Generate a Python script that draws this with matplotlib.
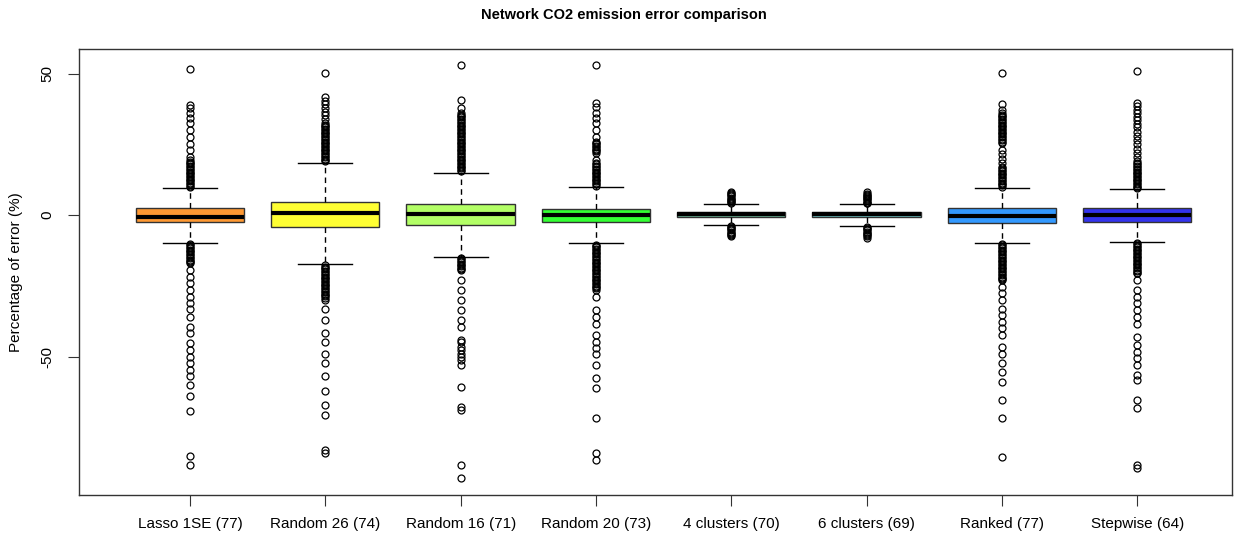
import matplotlib
matplotlib.use("Agg")
import matplotlib.pyplot as plt

labels = ["Lasso 1SE (77)", "Random 26 (74)", "Random 16 (71)", "Random 20 (73)",
          "4 clusters (70)", "6 clusters (69)", "Ranked (77)", "Stepwise (64)"]
colors = ["#FF9933", "#FFFF33", "#B3FF66", "#33FF33", "#66B394", "#66BDBD", "#3399FF", "#3333EE"]

medians = [-0.5, 0.6, 0.5, 0.0, 0.35, 0.4, -0.35, -0.1]
q1s = [-2.6, -4.1, -3.6, -2.4, -0.7, -0.6, -2.7, -2.6]
q3s = [2.6, 4.7, 3.9, 2.3, 1.06, 1.2, 2.4, 2.4]
whislo = [-9.8, -17.3, -14.7, -10.0, -3.5, -3.9, -9.8, -9.4]
whishi = [9.6, 18.5, 15.0, 10.0, 4.0, 3.9, 9.6, 9.2]

fliers_lasso = [51.5, 38.9, 37.7, 36.0, 34.2, 32.4, 30.0, 27.7, 25.3, 23.0, 20.6,
                19.4, 18.9, 18.4, 17.9, 17.4, 16.9, 16.4, 15.9, 15.4, 14.9, 14.4, 13.9,
                13.4, 12.9, 12.4, 11.9, 11.4, 10.9, 10.4, 10.0,
                -10.2, -10.7, -11.2, -11.7, -12.2, -12.7, -13.2, -13.7, -14.2, -14.7,
                -15.2, -15.7, -16.2, -16.7, -17.0, -19.4, -21.8, -24.0, -26.5, -28.9,
                -31.0, -33.0, -35.9, -39.5, -41.7, -45.2, -47.7, -50.0, -52.3, -54.8,
                -57.0, -60.0, -64.0, -69.2, -85.0, -88.3]
fliers_r26 = [50.3, 41.8, 40.5, 39.2, 37.9, 36.6, 35.3, 34.0, 32.5, 32.0, 31.5, 31.0,
              30.5, 30.0, 29.5, 29.0, 28.5, 28.0, 27.5, 27.0, 26.5, 26.0, 25.5, 25.0,
              24.5, 24.0, 23.5, 23.0, 22.5, 22.0, 21.5, 21.0, 20.5, 20.0, 19.5, 19.0,
              -17.7, -18.2, -18.7, -19.2, -19.7, -20.2, -20.7, -21.2, -21.7, -22.2,
              -22.7, -23.2, -23.7, -24.2, -24.7, -25.2, -25.7, -26.2, -26.7, -27.2,
              -27.7, -28.2, -28.7, -29.2, -30.0, -33.0, -37.0, -41.7, -45.0, -48.9,
              -52.3, -57.0, -62.0, -67.0, -70.7, -83.0, -84.0]
fliers_r16 = [53.0, 40.6, 37.8, 36.0, 35.5, 35.0, 34.5, 34.0, 33.5, 33.0, 32.5, 32.0,
              31.5, 31.0, 30.5, 30.0, 29.5, 29.0, 28.5, 28.0, 27.5, 27.0, 26.5, 26.0,
              25.5, 25.0, 24.5, 24.0, 23.5, 23.0, 22.5, 22.0, 21.5, 21.0, 20.5, 20.0,
              19.5, 19.0, 18.5, 18.0, 17.5, 17.0, 16.5, 16.0, 15.5,
              -15.1, -15.6, -16.1, -16.6, -17.1, -17.6, -18.1, -18.6, -19.1, -19.4,
              -23.0, -26.5, -30.0, -33.6, -37.0, -39.5, -44.0, -45.0, -46.5, -47.5,
              -48.9, -50.0, -51.2, -53.0, -60.7, -67.7, -69.0, -88.3, -93.0]
fliers_r20 = [53.0, 39.6, 38.3, 36.0, 34.3, 32.5, 30.0, 27.7, 26.0, 25.5, 25.0, 24.5,
              24.0, 23.5, 23.0, 22.5, 22.0, 19.4, 18.4, 17.9, 17.4, 16.9, 16.4, 15.9,
              15.4, 14.9, 14.4, 13.9, 13.4, 12.9, 12.4, 11.9, 11.4, 10.9, 10.4,
              -10.4, -10.9, -11.4, -11.9, -12.4, -12.9, -13.4, -13.9, -14.4, -14.9,
              -15.4, -15.9, -16.4, -16.9, -17.4, -17.9, -18.4, -18.9, -19.4, -19.9,
              -20.4, -20.9, -21.4, -21.9, -22.4, -22.9, -23.4, -23.9, -24.4, -24.9,
              -25.4, -25.9, -26.5, -28.9, -33.6, -35.9, -38.3, -42.4, -44.8, -47.0,
              -48.9, -53.0, -57.6, -61.2, -71.7, -84.0, -86.6]
fliers_c4 = [8.2, 7.8, 7.4, 7.0, 6.6, 6.2, 5.8, 5.4, 5.0, 4.6, 4.3,
             -3.8, -4.2, -4.6, -5.0, -5.4, -5.8, -6.2, -6.6, -7.0, -7.4]
fliers_c6 = [8.0, 7.6, 7.2, 6.8, 6.4, 6.0, 5.6, 5.2, 4.8, 4.4, 4.2,
             -4.2, -4.6, -5.0, -5.4, -5.8, -6.2, -6.6, -7.0, -7.4, -8.0]
fliers_ranked = [50.3, 39.4, 37.0, 36.0, 35.5, 35.0, 34.5, 34.0, 33.5, 33.0, 32.5,
                 32.0, 31.5, 31.0, 30.5, 30.0, 29.5, 29.0, 28.5, 28.0, 27.5, 27.0,
                 26.5, 26.0, 25.4, 23.0, 21.5, 20.0, 18.4, 17.0, 16.5, 16.0, 15.5,
                 15.0, 14.5, 14.0, 13.5, 13.0, 12.5, 12.0, 11.5, 11.0, 10.5, 10.0,
                 -10.2, -10.7, -11.2, -11.7, -12.2, -12.7, -13.2, -13.7, -14.2, -14.7,
                 -15.2, -15.7, -16.2, -16.7, -17.2, -17.7, -18.2, -18.7, -19.2, -19.7,
                 -20.2, -20.7, -21.2, -21.7, -22.2, -22.7, -23.0, -25.3, -27.6, -30.0,
                 -33.0, -35.3, -37.7, -40.0, -42.4, -46.5, -48.9, -52.3, -55.4, -58.9,
                 -65.4, -71.7, -85.4]
fliers_step = [51.0, 39.7, 38.5, 37.3, 36.0, 34.8, 33.5, 32.2, 31.0, 29.5, 28.0,
               26.5, 25.0, 23.5, 22.0, 20.5, 19.0, 18.4, 17.9, 17.4, 16.9, 16.4,
               15.9, 15.4, 14.9, 14.4, 13.9, 13.4, 12.9, 12.4, 11.9, 11.4, 10.9,
               10.4, 9.9, 9.5,
               -9.8, -10.3, -10.8, -11.3, -11.8, -12.3, -12.8, -13.3, -13.8, -14.3,
               -14.8, -15.3, -15.8, -16.3, -16.8, -17.3, -17.8, -18.3, -18.8, -19.3,
               -19.8, -20.3, -20.6, -23.0, -26.5, -28.9, -31.0, -33.6, -35.9, -38.3,
               -43.0, -46.0, -48.3, -50.6, -53.0, -56.5, -58.3, -65.4, -68.2, -88.3,
               -89.4]
fliers = [fliers_lasso, fliers_r26, fliers_r16, fliers_r20, fliers_c4, fliers_c6,
          fliers_ranked, fliers_step]

stats = []
for i in range(len(labels)):
    stats.append(dict(med=medians[i], q1=q1s[i], q3=q3s[i], whislo=whislo[i],
                      whishi=whishi[i], fliers=fliers[i], label=labels[i]))

plt.rcParams['font.family'] = ['Liberation Sans', 'DejaVu Sans']
fig = plt.figure(figsize=(12.48, 5.37), dpi=100)
ax = fig.add_axes([79 / 1248, 1 - 495 / 537, (1232 - 79) / 1248, (495 - 49) / 537])

positions = list(range(1, len(labels) + 1))
res = ax.bxp(stats, positions=positions, widths=0.8, capwidths=0.4, patch_artist=True,
             showfliers=True,
             boxprops=dict(edgecolor='#333333', linewidth=1.0),
             medianprops=dict(color='black', linewidth=3.0, solid_capstyle='butt'),
             whiskerprops=dict(color='black', linewidth=1.0, linestyle=(0, (4, 3))),
             capprops=dict(color='black', linewidth=1.0),
             flierprops=dict(marker='o', markerfacecolor='none', markeredgecolor='black',
                             markersize=5.0, markeredgewidth=0.9, linestyle='none'))
for patch, c in zip(res['boxes'], colors):
    patch.set_facecolor(c)

ax.set_xlim(0.18, 8.70)
ax.set_ylim(-98.9, 58.7)
ax.set_yticks([-50, 0, 50])
ax.set_yticklabels(['-50', '0', '50'], rotation=90, va='center', fontsize=11)
ax.set_xticks(positions)
ax.set_xticklabels(labels, fontsize=11)
ax.tick_params(axis='both', length=8, width=0.8, color='#333333', direction='out', pad=5)
ax.tick_params(axis='x', pad=8)
ax.tick_params(axis='y', pad=10)
for s in ax.spines.values():
    s.set_linewidth(1.0)
    s.set_color('#333333')
ax.set_ylabel('Percentage of error (%)', fontsize=11, labelpad=12)
fig.suptitle('Network CO2 emission error comparison', fontsize=10.5, fontweight='bold', y=0.985)

fig.savefig('out.png', dpi=100)
